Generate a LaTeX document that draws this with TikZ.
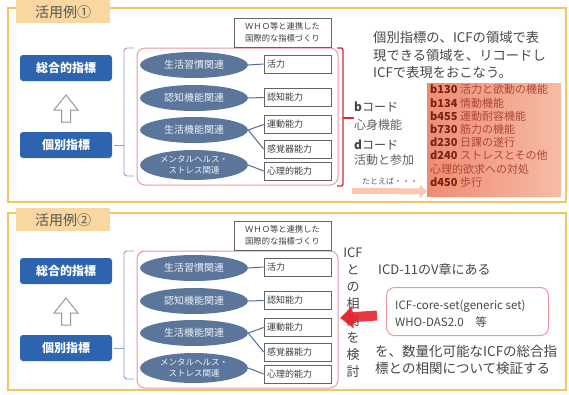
\documentclass[tikz,border=0pt]{standalone}
\usepackage{fontspec}
\setmainfont{Noto Sans CJK JP}
\usetikzlibrary{shapes.geometric,arrows.meta,calc}
\definecolor{panelC}{RGB}{245,196,100}
\definecolor{tabC}{RGB}{250,215,160}
\definecolor{tabtxt}{RGB}{85,85,85}
\definecolor{blueC}{RGB}{46,100,175}
\definecolor{ellC}{RGB}{92,118,155}
\definecolor{elltxt}{RGB}{238,242,248}
\definecolor{sboxC}{RGB}{100,100,100}
\definecolor{sboxtxt}{RGB}{60,60,60}
\definecolor{connC}{RGB}{80,110,150}
\definecolor{braceC}{RGB}{140,160,195}
\definecolor{pinkC}{RGB}{235,150,160}
\definecolor{redbrC}{RGB}{215,40,55}
\definecolor{bigtxt}{RGB}{70,70,70}
\definecolor{midtxt}{RGB}{95,95,95}
\definecolor{salL}{RGB}{238,140,115}
\definecolor{salR}{RGB}{247,188,165}
\definecolor{salTxt}{RGB}{175,70,55}
\definecolor{codeC}{RGB}{120,35,20}
\definecolor{peachC}{RGB}{248,200,176}
\definecolor{redArr}{RGB}{228,32,40}
\definecolor{arrowGray}{RGB}{150,150,150}
\newcommand\myfs[2]{\fontsize{#1}{#2}\selectfont}
\newcommand\icfcode[1]{{\bfseries\color{codeC}#1}}
\begin{document}
\begin{tikzpicture}[x=1pt,y=-1pt,
 panel/.style={draw=panelC, line width=1.6pt},
 tabbox/.style={fill=tabC, inner sep=0pt, minimum width=94pt, minimum height=23pt, text=tabtxt, font=\myfs{14}{16}},
 bluebox/.style={fill=blueC, rounded corners=3pt, minimum width=92pt, minimum height=26pt, inner sep=0pt, text=white, font=\myfs{12}{14}\bfseries},
 ell/.style={ellipse, fill=ellC, minimum width=108pt, minimum height=26pt, inner sep=0pt, text=elltxt, align=center, font=\myfs{10}{12}},
 sbox/.style={draw=sboxC, fill=white, line width=0.8pt, minimum height=18pt, inner ysep=0pt, inner xsep=3pt, text width=61pt, align=left, text=sboxtxt, font=\myfs{9}{10}},
 whobox/.style={draw=sboxC, fill=white, line width=0.8pt, minimum width=97pt, minimum height=29pt, inner sep=0pt, align=center, text=sboxtxt, font=\myfs{8.3}{11.5}},
 conn/.style={draw=connC, line width=1pt},
 bracec/.style={draw=braceC, line width=0.9pt, rounded corners=3pt},
 pinkbox/.style={draw=pinkC, line width=1pt, rounded corners=8pt},
 hollowup/.style={draw=arrowGray, fill=white, line width=1pt},
 plain/.style={inner sep=0pt, align=left}
]
\useasboundingbox (0,0) rectangle (569,394);
% panels
\draw[panel] (8,8) rectangle (566,202);
\draw[panel] (8,213) rectangle (566,390);
\node[tabbox, anchor=north west] (tab1) at (16,0) {活用例①};
\node[tabbox, anchor=north west] (tab2) at (16,208) {活用例②};

\foreach \p/\dy in {1/0,2/203}{
\begin{scope}[shift={(0,\dy)}]
 \node[bluebox] (sogo\p) at (66,68) {総合的指標};
 \node[bluebox] (kobetsu\p) at (66,145) {個別指標};
 \draw[hollowup] (66,95) -- (78,110) -- (70.5,110) -- (70.5,122) -- (61.5,122) -- (61.5,110) -- (54,110) -- cycle;
 \draw[bracec] (134,48) -- (124,48) -- (124,176) -- (134,176);
 \draw[draw=braceC, line width=0.9pt] (kobetsu\p.east) ++(2,0) -- (124,145);
 \draw[pinkbox] (137,48) rectangle (338,185);
 \node[whobox] (who\p) at (282.5,32.5) {ＷＨＯ等と連携した\\国際的な指標づくり};
 \node[ell] (ea\p) at (194,65) {生活習慣関連};
 \node[ell] (eb\p) at (194,98) {認知機能関連};
 \node[ell] (ec\p) at (194,130) {生活機能関連};
 \node[ell, minimum height=30pt, font=\myfs{8.5}{10.5}] (ed\p) at (194,165) {メンタルヘルス・\\ストレス関連};
 \node[sbox] (ba\p) at (297.5,64) {活力};
 \node[sbox] (bb\p) at (297.5,97.5) {認知能力};
 \node[sbox] (bc\p) at (297.5,124.5) {運動能力};
 \node[sbox] (bd\p) at (297.5,149) {感覚器能力};
 \node[sbox] (be\p) at (297.5,171) {心理的能力};
 \draw[conn] (ea\p.east) -- (ba\p.west);
 \draw[conn] (eb\p.east) -- (bb\p.west);
 \draw[conn] (ec\p.east) -- (bc\p.west);
 \draw[conn] (ec\p.east) -- (bd\p.west);
 \draw[conn] (ed\p.east) -- (be\p.west);
\end{scope}
}

% panel 1 right side
\draw[draw=redbrC, line width=1.4pt, rounded corners=2pt] (337,48) -- (343,48) -- (343,186) -- (337,186);
\draw[draw=redbrC, line width=1.4pt] (343,118) -- (354,118);
\node[plain, anchor=west, text=bigtxt, font=\myfs{13.3}{17.5}] (desc1) at (373,55) {個別指標の、ICFの領域で表\\現できる領域を、リコードし\\ICFで表現をおこなう。};
\node[plain, anchor=west, text=bigtxt, font=\myfs{12}{14}] (bcode) at (354,107) {\textbf{b}コード};
\node[plain, anchor=west, text=midtxt, font=\myfs{12}{14}] (bdesc) at (354,125) {心身機能};
\node[plain, anchor=west, text=bigtxt, font=\myfs{12}{14}] (dcode) at (354,145) {\textbf{d}コード};
\node[plain, anchor=west, text=midtxt, font=\myfs{12}{14}] (ddesc) at (354,160) {活動と参加};
\node[plain, anchor=west, text=midtxt, font=\myfs{8}{10}] (tatoeba) at (362,181) {たとえば・・・};
\node[left color=salL, right color=salR, minimum width=134pt, minimum height=113pt, inner sep=0pt, anchor=north west] (salbox) at (427,83) {};
\node[plain, anchor=north west, text=salTxt, font=\myfs{11}{13.2}] (codes) at (430,84.5) {\icfcode{b130} 活力と欲動の機能\\\icfcode{b134} 情動機能\\\icfcode{b455} 運動耐容機能\\\icfcode{b730} 筋力の機能\\\icfcode{d230} 日課の遂行\\\icfcode{d240} ストレスとその他\\心理的欲求への対処\\\icfcode{d450} 歩行};
\coordinate (peachstart) at (352,191);
\draw[draw=peachC, line width=6pt, -{Triangle[length=7pt,width=13pt]}] (peachstart) -- ($(salbox.south west)+(0,-5)$);

% panel 2 right side
\node[plain, align=center, text=bigtxt, font=\myfs{13}{17}] (vert) at (353,312.5) {ICF\\と\\の\\相\\関\\を\\検\\討};
\node[plain, anchor=west, text=bigtxt, font=\myfs{13}{15}] (icd) at (378,270) {ICD-11のV章にある};
\node[pinkbox, minimum width=162pt, minimum height=48pt, anchor=north west] (coreset) at (386,287) {};
\node[plain, anchor=west, text=bigtxt, font=\myfs{11.5}{17}] (coretxt) at (395,313.5) {ICF-core-set(generic set)\\WHO-DAS2.0\quad 等};
\node[plain, anchor=west, text=bigtxt, font=\myfs{13.5}{16.5}] (verify) at (375,360) {を、数量化可能なICFの総合指\\標との相関について検証する};
\draw[draw=redArr, opacity=0.88, line width=10pt, -{Triangle[length=13pt,width=22pt]}] (coreset.west) ++(-9,4) -- (340,318);
\end{tikzpicture}
\end{document}
